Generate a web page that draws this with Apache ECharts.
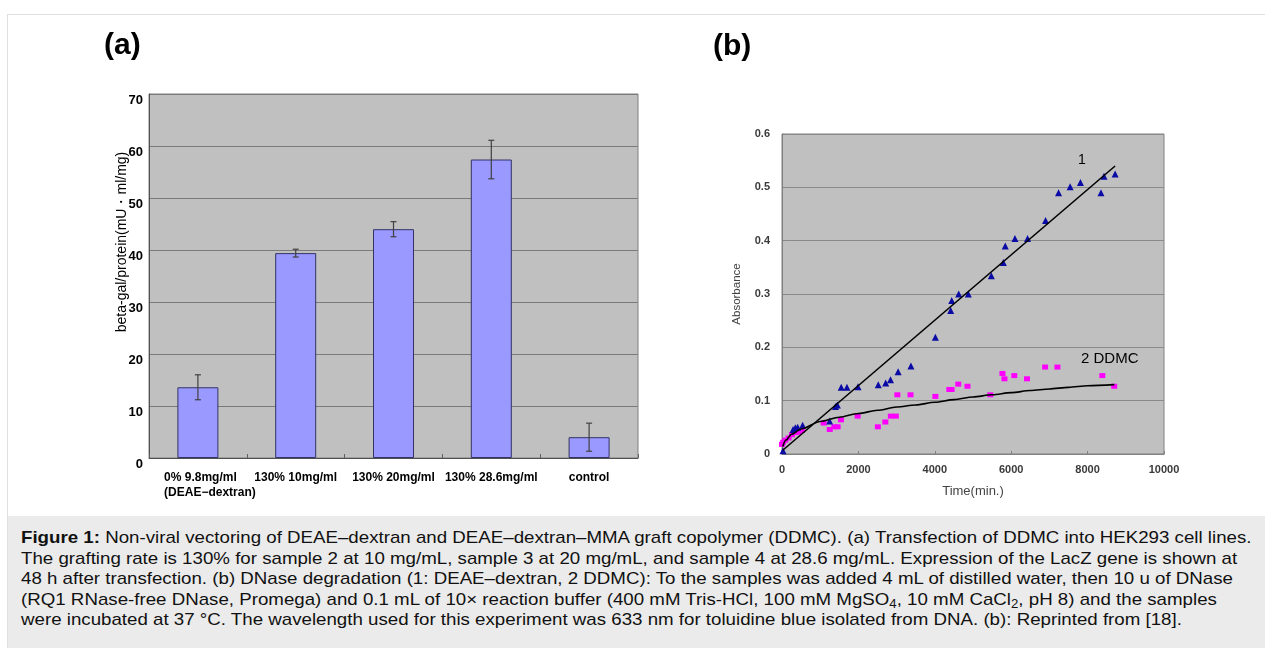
<!DOCTYPE html>
<html>
<head>
<meta charset="utf-8">
<script src="https://cdn.jsdelivr.net/npm/echarts@6/dist/echarts.min.js"></script>
<style>
html,body{margin:0;padding:0;background:#fff;width:1265px;height:648px;overflow:hidden;font-family:"Liberation Sans",Arial,sans-serif}
#frame{position:absolute;left:7px;top:14px;width:1270px;height:700px;border:1px solid #e0e0e0;box-sizing:border-box}
#chart{position:absolute;left:0;top:0;width:1265px;height:516px}
#cap{position:absolute;left:8px;top:516px;width:1257px;height:132px;background:#ebebeb}
#capText{position:absolute;left:13px;top:12px;font-size:17px;line-height:20.6px;color:#111;white-space:nowrap;transform:scaleX(1.1);transform-origin:0 0}
#capText sub{font-size:12px;line-height:0;vertical-align:-3px}
</style>
</head>
<body>
<div id="frame"></div>
<div id="chart"></div>
<div id="cap"><div id="capText"><b>Figure 1:</b> Non-viral vectoring of DEAE–dextran and DEAE–dextran–MMA graft copolymer (DDMC). (a) Transfection of DDMC into HEK293 cell lines.<br>The grafting rate is 130% for sample 2 at 10 mg/mL, sample 3 at 20 mg/mL, and sample 4 at 28.6 mg/mL. Expression of the LacZ gene is shown at<br>48 h after transfection. (b) DNase degradation (1: DEAE–dextran, 2 DDMC): To the samples was added 4 mL of distilled water, then 10 u of DNase<br>(RQ1 RNase-free DNase, Promega) and 0.1 mL of 10× reaction buffer (400 mM Tris-HCl, 100 mM MgSO<sub>4</sub>, 10 mM CaCl<sub>2</sub>, pH 8) and the samples<br>were incubated at 37 °C. The wavelength used for this experiment was 633 nm for toluidine blue isolated from DNA. (b): Reprinted from [18].</div></div>
<script>
// ---- Panel (a) data ----
const categoriesA = ['0% 9.8mg/ml\n(DEAE−dextran)', '130% 10mg/ml', '130% 20mg/ml', '130% 28.6mg/ml', 'control'];
const betaGal = [13.6, 39.4, 44.0, 57.4, 4.0];
const betaGalErr = [2.4, 0.75, 1.45, 3.7, 2.7];
const yNameA = 'beta-gal/protein(mU・ml/mg)';

// ---- Panel (b) data ----
const deaeTime = [26, 290, 350, 410, 540, 1246, 1400, 1450, 1550, 1700, 1990, 2520, 2715, 2840, 3040, 3375, 4015, 4416, 4443, 4625, 4878, 5479, 5793, 5845, 6098, 6429, 6899, 7240, 7542, 7813, 8350, 8430, 8720];
const deaeAbs  = [0.006, 0.046, 0.049, 0.050, 0.054, 0.062, 0.089, 0.092, 0.125, 0.125, 0.126, 0.130, 0.133, 0.139, 0.154, 0.165, 0.219, 0.269, 0.288, 0.300, 0.300, 0.334, 0.359, 0.390, 0.404, 0.404, 0.438, 0.490, 0.501, 0.509, 0.490, 0.521, 0.525];
const ddmcTime = [0, 30, 86, 173, 260, 350, 435, 523, 1090, 1250, 1370, 1457, 1544, 1980, 2510, 2705, 2850, 2980, 3020, 3365, 4015, 4380, 4440, 4615, 4855, 5453, 5771, 5823, 6081, 6413, 6888, 7210, 8385, 8696];
const ddmcAbs  = [0.018, 0.022, 0.026, 0.030, 0.036, 0.040, 0.041, 0.044, 0.058, 0.046, 0.051, 0.051, 0.064, 0.071, 0.051, 0.060, 0.071, 0.071, 0.111, 0.111, 0.108, 0.121, 0.121, 0.131, 0.127, 0.111, 0.151, 0.141, 0.147, 0.141, 0.163, 0.163, 0.147, 0.127];
const fit1Time = [20, 8720];
const fit1Abs  = [0.007, 0.540];
const fit2Time = [20, 100, 250, 500, 1000, 1500, 2000, 2500, 3000, 3500, 4000, 4500, 5000, 5500, 6000, 6500, 7000, 7500, 8000, 8700];
const fit2Abs  = [0.014, 0.026, 0.037, 0.047, 0.061, 0.069, 0.076, 0.082, 0.088, 0.092, 0.097, 0.102, 0.107, 0.111, 0.115, 0.119, 0.122, 0.125, 0.128, 0.130];
const xTicksB = [0, 2000, 4000, 6000, 8000, 10000];
const yTicksB = [0, 0.1, 0.2, 0.3, 0.4, 0.5, 0.6];

const zip = (a, b) => a.map((v, i) => [v, b[i]]);

const chart = echarts.init(document.getElementById('chart'), null, {renderer: 'canvas'});
const FONT = '"Liberation Sans", Arial, sans-serif';

const option = {
  animation: false,
  textStyle: {fontFamily: FONT},
  grid: [
    {left: 149, top: 94, width: 489, height: 364, show: true, backgroundColor: '#c0c0c0', borderColor: '#808080', borderWidth: 1, containLabel: false, outerBoundsMode: 'none'},
    {left: 782, top: 134, width: 382, height: 320, show: true, backgroundColor: '#c0c0c0', borderColor: '#808080', borderWidth: 1, containLabel: false, outerBoundsMode: 'none'}
  ],
  xAxis: [
    {
      gridIndex: 0, type: 'category', data: categoriesA,
      axisLine: {lineStyle: {color: '#505050', width: 1}},
      axisTick: {show: true, inside: true, length: 4, lineStyle: {color: '#606060'}},
      splitLine: {show: false},
      axisLabel: {
        interval: 0, margin: 12, color: '#000', fontWeight: 'bold', fontSize: 12, fontFamily: FONT, lineHeight: 15,
        formatter: function (v) {
          if (v.indexOf('\n') >= 0) {
            const parts = v.split('\n');
            return '{a|' + parts[0] + '}\n{b|' + parts[1] + '}';
          }
          return v;
        },
        rich: {
          a: {fontWeight: 'bold', fontSize: 12, color: '#000', lineHeight: 15, padding: [0, 19, 0, 24], fontFamily: FONT},
          b: {fontWeight: 'bold', fontSize: 12, color: '#000', lineHeight: 15, padding: [0, 0, 0, 24], fontFamily: FONT}
        }
      }
    },
    {
      gridIndex: 1, type: 'value', min: xTicksB[0], max: xTicksB[xTicksB.length - 1], interval: 2000,
      axisLine: {show: true, onZero: false, lineStyle: {color: '#808080'}},
      axisTick: {show: true, inside: true, length: 3, lineStyle: {color: '#808080'}},
      splitLine: {show: false},
      axisLabel: {color: '#3a3a3a', fontSize: 11, fontWeight: 'bold', margin: 10, fontFamily: FONT,
        formatter: function (v) { return String(v); }},
      name: 'Time(min.)', nameLocation: 'middle', nameGap: 31,
      nameTextStyle: {color: '#444', fontSize: 13, fontFamily: FONT}
    }
  ],
  yAxis: [
    {
      gridIndex: 0, type: 'value', min: 0, max: 70, interval: 10,
      axisLine: {show: true, lineStyle: {color: '#505050'}},
      axisTick: {show: false},
      splitLine: {show: true, lineStyle: {color: '#7a7a7a', width: 1}},
      axisLabel: {color: '#000', fontWeight: 'bold', fontSize: 13, margin: 6, verticalAlign: 'top', fontFamily: FONT},
      name: yNameA, nameLocation: 'middle', nameGap: 20, nameMoveOverlap: false,
      nameTextStyle: {color: '#000', fontSize: 14, fontFamily: FONT, padding: [0, 0, 0, 68]}
    },
    {
      gridIndex: 1, type: 'value', min: yTicksB[0], max: yTicksB[yTicksB.length - 1], interval: 0.1,
      axisLine: {show: true, onZero: false, lineStyle: {color: '#808080'}},
      axisTick: {show: true, inside: true, length: 3, lineStyle: {color: '#808080'}},
      splitLine: {show: true, lineStyle: {color: '#8a8a8a', width: 1}},
      axisLabel: {color: '#3a3a3a', fontSize: 11, fontWeight: 'bold', margin: 12, fontFamily: FONT},
      name: 'Absorbance', nameLocation: 'middle', nameGap: 39, nameMoveOverlap: false,
      nameTextStyle: {color: '#444', fontSize: 11.5, fontFamily: FONT}
    }
  ],
  series: [
    {
      type: 'bar', xAxisIndex: 0, yAxisIndex: 0, data: betaGal, barWidth: 41, silent: true,
      itemStyle: {color: '#9999ff', borderColor: '#333366', borderWidth: 1}
    },
    {
      type: 'custom', xAxisIndex: 0, yAxisIndex: 0, z: 5, silent: true,
      data: betaGal.map((v, i) => [i, v - betaGalErr[i], v + betaGalErr[i]]),
      encode: {x: 0, y: [1, 2]},
      renderItem: function (params, api) {
        const x = api.value(0);
        const top = api.coord([x, api.value(2)]);
        const bot = api.coord([x, api.value(1)]);
        const w = 3;
        const st = {stroke: '#404040', lineWidth: 1.2};
        return {
          type: 'group',
          children: [
            {type: 'line', shape: {x1: top[0], y1: top[1], x2: bot[0], y2: bot[1]}, style: st},
            {type: 'line', shape: {x1: top[0] - w, y1: top[1], x2: top[0] + w, y2: top[1]}, style: st},
            {type: 'line', shape: {x1: bot[0] - w, y1: bot[1], x2: bot[0] + w, y2: bot[1]}, style: st}
          ]
        };
      }
    },
    {
      type: 'scatter', xAxisIndex: 1, yAxisIndex: 1, data: zip(ddmcTime, ddmcAbs), silent: true,
      symbol: 'rect', symbolSize: [6, 5], itemStyle: {color: '#ff00ff', opacity: 1}, z: 3
    },
    {
      type: 'scatter', xAxisIndex: 1, yAxisIndex: 1, data: zip(deaeTime, deaeAbs), silent: true,
      symbol: 'triangle', symbolSize: 7, itemStyle: {color: '#0a0aa5', opacity: 1}, z: 3
    },
    {
      type: 'line', xAxisIndex: 1, yAxisIndex: 1, data: zip(fit1Time, fit1Abs), silent: true,
      symbol: 'none', lineStyle: {color: '#000', width: 1.6}, z: 4
    },
    {
      type: 'line', xAxisIndex: 1, yAxisIndex: 1, data: zip(fit2Time, fit2Abs), silent: true,
      symbol: 'none', smooth: 0.3, smoothMonotone: 'x', lineStyle: {color: '#000', width: 1.6}, z: 4
    }
  ],
  graphic: [
    {type: 'text', x: 104, y: 46, style: {text: '(a)', font: 'bold 30px ' + FONT, fill: '#000', verticalAlign: 'middle'}},
    {type: 'text', x: 713, y: 47, style: {text: '(b)', font: 'bold 30px ' + FONT, fill: '#000', verticalAlign: 'middle'}},
    {type: 'text', x: 1078, y: 160, style: {text: '1', font: '14px ' + FONT, fill: '#000', verticalAlign: 'middle'}},
    {type: 'text', x: 1081, y: 359, style: {text: '2 DDMC', font: '15px ' + FONT, fill: '#000', verticalAlign: 'middle'}}
  ]
};
chart.setOption(option);
</script>
</body>
</html>
